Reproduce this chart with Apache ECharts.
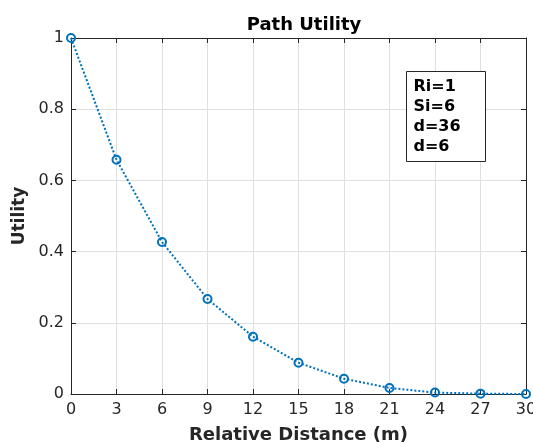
<!DOCTYPE html>
<html>
<head>
<meta charset="utf-8">
<script src="https://cdn.jsdelivr.net/npm/echarts@6/dist/echarts.min.js"></script>
<style>
  html, body { margin: 0; padding: 0; background: #fff; }
  #chart { width: 533px; height: 444px; }
</style>
</head>
<body>
<div id="chart"></div>
<script>
// Relative distance (m) and the resulting path utility
const distances = [0, 3, 6, 9, 12, 15, 18, 21, 24, 27, 30];
const utility = [1.0, 0.658, 0.427, 0.267, 0.161, 0.088, 0.043, 0.017, 0.004, 0.001, 0.0];
const xTicks = [0, 3, 6, 9, 12, 15, 18, 21, 24, 27, 30];
const yTicks = [0, 0.2, 0.4, 0.6, 0.8, 1];
const noteLines = ['Ri=1', 'Si=6', 'd=36', 'd=6'];

const FONT = 'DejaVu Sans';
const AXIS_COLOR = '#262626';
const LINE_COLOR = '#0072BD';

const chart = echarts.init(document.getElementById('chart'));

const gridLine = { show: true, lineStyle: { color: '#dfdfdf', width: 1 } };

chart.setOption({
  animation: false,
  backgroundColor: '#ffffff',
  title: {
    text: 'Path Utility',
    left: 299, top: 11, textAlign: 'center',
    textStyle: { fontFamily: FONT, fontSize: 18, fontWeight: 'bold', color: '#000' }
  },
  grid: { left: 71, top: 38, right: 7, bottom: 50, containLabel: false, outerBoundsMode: 'none' },
  xAxis: [{
    type: 'value', min: 0, max: 30, interval: 3,
    position: 'bottom',
    name: 'Relative Distance (m)', nameLocation: 'middle', nameGap: 32,
    nameTextStyle: { fontFamily: FONT, fontSize: 18, fontWeight: 'bold', color: AXIS_COLOR },
    axisLine: { show: true, onZero: false, lineStyle: { color: AXIS_COLOR, width: 1 } },
    axisTick: { show: true, inside: true, length: 5, lineStyle: { color: AXIS_COLOR } },
    axisLabel: { fontFamily: FONT, fontSize: 16, color: AXIS_COLOR, margin: 8,
      formatter: v => xTicks.includes(v) ? String(v) : '' },
    splitLine: gridLine
  }, {
    type: 'value', min: 0, max: 30, interval: 3, position: 'top',
    axisLine: { show: true, onZero: false, lineStyle: { color: AXIS_COLOR, width: 1 } },
    axisTick: { show: true, inside: true, length: 5, lineStyle: { color: AXIS_COLOR } },
    axisLabel: { show: false }, splitLine: { show: false }
  }],
  yAxis: [{
    type: 'value', min: 0, max: 1, interval: 0.2,
    position: 'left',
    name: 'Utility', nameLocation: 'middle', nameGap: 34, nameRotate: 90,
    nameTextStyle: { fontFamily: FONT, fontSize: 17, fontWeight: 'bold', color: AXIS_COLOR },
    axisLine: { show: true, onZero: false, lineStyle: { color: AXIS_COLOR, width: 1 } },
    axisTick: { show: true, inside: true, length: 5, lineStyle: { color: AXIS_COLOR } },
    axisLabel: { fontFamily: FONT, fontSize: 16, color: AXIS_COLOR, margin: 7,
      formatter: v => {
        const t = yTicks.find(k => Math.abs(k - v) < 1e-9);
        return t === undefined ? '' : String(t);
      } },
    splitLine: gridLine
  }, {
    type: 'value', min: 0, max: 1, interval: 0.2, position: 'right',
    axisLine: { show: true, onZero: false, lineStyle: { color: AXIS_COLOR, width: 1 } },
    axisTick: { show: true, inside: true, length: 5, lineStyle: { color: AXIS_COLOR } },
    axisLabel: { show: false }, splitLine: { show: false }
  }],
  series: [{
    type: 'line',
    data: distances.map((d, i) => [d, utility[i]]),
    xAxisIndex: 0, yAxisIndex: 0,
    symbol: 'circle', symbolSize: 8,
    itemStyle: { color: 'rgba(255,255,255,0)', borderColor: LINE_COLOR, borderWidth: 2 },
    lineStyle: { color: LINE_COLOR, width: 2, type: [2, 2] },
    clip: false,
    z: 5
  }],
  graphic: [{
    type: 'group', left: 406, top: 71, z: 100, zlevel: 1,
    children: [{
      type: 'rect', z: 100, zlevel: 1,
      shape: { x: 0, y: 0, width: 79, height: 90 },
      style: { fill: '#ffffff', stroke: '#262626', lineWidth: 1 }
    }, {
      type: 'text', x: 7, y: 5, z: 101, zlevel: 1,
      style: {
        text: noteLines.join('\n'),
        font: 'bold 16px "DejaVu Sans"',
        lineHeight: 20,
        fill: '#000000'
      }
    }]
  }]
});
</script>
</body>
</html>
